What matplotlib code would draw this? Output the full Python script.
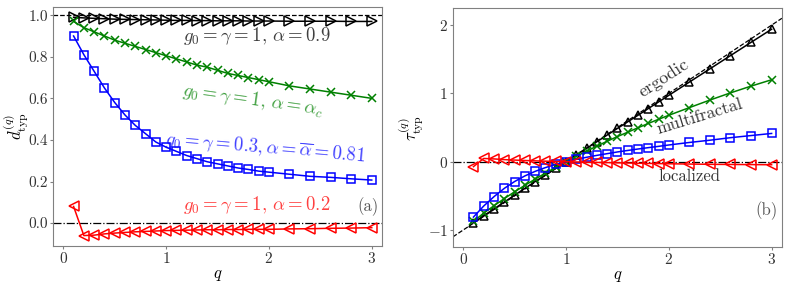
import numpy as np
import matplotlib
matplotlib.use('Agg')
import matplotlib.pyplot as plt

plt.rcParams['font.family'] = 'serif'
plt.rcParams['font.serif'] = ['cmr10']
plt.rcParams['mathtext.fontset'] = 'cm'
plt.rcParams['axes.formatter.use_mathtext'] = True
plt.rcParams['axes.unicode_minus'] = True

q = [0.1, 0.2, 0.3, 0.4, 0.5, 0.6, 0.7, 0.8, 0.9, 1.0, 1.1, 1.2, 1.3, 1.4, 1.5,
     1.6, 1.7, 1.8, 1.9, 2.0, 2.2, 2.4, 2.6, 2.8, 3.0]

# d_typ^(q)
d_black = [0.99, 0.987, 0.985, 0.983, 0.981, 0.98, 0.979, 0.978, 0.977, 0.976,
           0.975, 0.975, 0.974, 0.974, 0.973, 0.973, 0.973, 0.972, 0.972, 0.972,
           0.971, 0.971, 0.971, 0.97, 0.97]
d_green = [0.97, 0.94, 0.92, 0.90, 0.88, 0.865, 0.85, 0.835, 0.82, 0.805,
           0.79, 0.775, 0.76, 0.75, 0.735, 0.72, 0.71, 0.70, 0.69, 0.68,
           0.66, 0.645, 0.63, 0.615, 0.60]
d_blue = [0.90, 0.81, 0.73, 0.65, 0.58, 0.52, 0.47, 0.43, 0.39, 0.365,
          0.345, 0.325, 0.31, 0.295, 0.285, 0.275, 0.265, 0.258, 0.25, 0.245,
          0.235, 0.225, 0.22, 0.213, 0.207]
d_red = [0.08, -0.06, -0.058, -0.052, -0.048, -0.045, -0.042, -0.04, -0.038, -0.036,
         -0.035, -0.034, -0.033, -0.032, -0.032, -0.031, -0.031, -0.03, -0.03, -0.03,
         -0.028, -0.027, -0.025, -0.024, -0.022]

# tau_typ^(q)
t_black = [-0.89, -0.79, -0.69, -0.59, -0.49, -0.39, -0.29, -0.195, -0.098, 0.0,
           0.097, 0.195, 0.292, 0.39, 0.487, 0.584, 0.68, 0.778, 0.875, 0.972,
           1.166, 1.36, 1.554, 1.748, 1.94]
t_green = [-0.873, -0.752, -0.644, -0.54, -0.44, -0.346, -0.255, -0.167, -0.082, 0.0,
           0.079, 0.155, 0.228, 0.30, 0.368, 0.432, 0.497, 0.56, 0.621, 0.68,
           0.792, 0.903, 1.008, 1.107, 1.20]
t_blue = [-0.81, -0.648, -0.511, -0.39, -0.29, -0.208, -0.141, -0.086, -0.039, 0.0,
          0.035, 0.065, 0.093, 0.118, 0.143, 0.165, 0.186, 0.206, 0.225, 0.245,
          0.282, 0.315, 0.352, 0.383, 0.414]
t_red = [-0.072, 0.048, 0.041, 0.031, 0.024, 0.018, 0.013, 0.008, 0.004, 0.0,
         -0.004, -0.007, -0.01, -0.013, -0.016, -0.019, -0.022, -0.024, -0.027, -0.03,
         -0.034, -0.038, -0.04, -0.042, -0.044]

fig = plt.figure(figsize=(7.89, 2.87), dpi=100)
ax1 = fig.add_axes([0.0672, 0.143, 0.417, 0.833])
ax2 = fig.add_axes([0.574, 0.139, 0.417, 0.833])

frame = '#808080'
for ax in (ax1, ax2):
    for s in ax.spines.values():
        s.set_color(frame)
    ax.tick_params(colors=frame, labelcolor='#333333', labelsize=11,
                   length=2, pad=1.5)
    ax.set_xlim(-0.1, 3.1)
    ax.set_xticks([0, 1, 2, 3])
    ax.set_xlabel('$q$', fontsize=12, labelpad=1)

# panel (a)
ax1.axhline(1.0, color='k', ls='--', lw=0.9)
ax1.axhline(0.0, color='k', ls='-.', lw=0.9)
kw = dict(lw=1.1, mfc='none', mew=1.1)
ax1.plot(q, d_black, color='k', marker='>', ms=6.5, **kw)
ax1.plot(q, d_green, color='g', marker='x', ms=6, **kw)
ax1.plot(q, d_blue, color='b', marker='s', ms=6, **kw)
ax1.plot(q, d_red, color='r', marker='<', ms=6.5, **kw)
ax1.set_ylim(-0.11, 1.04)
ax1.set_yticks([0.0, 0.2, 0.4, 0.6, 0.8, 1.0])
ax1.set_yticklabels(['0.0', '0.2', '0.4', '0.6', '0.8', '1.0'])
ax1.set_ylabel(r'$d_{\rm typ}^{(q)}$', fontsize=12)
ax1.yaxis.set_label_coords(-0.07, 0.5)

ax1.text(1.88, 0.90, r'$g_0=\gamma=1,\,\alpha=0.9$', color='k', alpha=0.75,
         fontsize=13.5, ha='center', va='center')
ax1.text(1.84, 0.593, r'$g_0=\gamma=1,\,\alpha=\alpha_c$', color='g', alpha=0.75,
         fontsize=13.5, ha='center', va='center', rotation=-8)
ax1.text(1.96, 0.36, r'$g_0=\gamma=0.3,\alpha=\overline{\alpha}=0.81$', color='b',
         alpha=0.75, fontsize=13.5, ha='center', va='center', rotation=-5)
ax1.text(1.88, 0.085, r'$g_0=\gamma=1,\,\alpha=0.2$', color='r', alpha=0.75,
         fontsize=13.5, ha='center', va='center')
ax1.text(2.96, 0.08, '(a)', color='#555555', fontsize=12, ha='center', va='center')

# panel (b)
xl = np.array([-0.1, 3.1])
ax2.plot(xl, xl - 1, color='k', ls='--', lw=0.9)
ax2.axhline(0.0, color='k', ls='-.', lw=0.9)
ax2.plot(q, t_black, color='k', marker='^', ms=6, **kw)
ax2.plot(q, t_green, color='g', marker='x', ms=6, **kw)
ax2.plot(q, t_blue, color='b', marker='s', ms=6, **kw)
ax2.plot(q, t_red, color='r', marker='<', ms=6.5, **kw)
ax2.set_ylim(-1.25, 2.25)
ax2.set_yticks([-1, 0, 1, 2])
ax2.set_ylabel(r'$\tau_{\rm typ}^{(q)}$', fontsize=12)
ax2.yaxis.set_label_coords(-0.085, 0.5)

ax2.text(1.95, 1.22, 'ergodic', color='#333333', fontsize=13,
         ha='center', va='center', rotation=33)
ax2.text(2.3, 0.66, 'multifractal', color='#333333', fontsize=12.5,
         ha='center', va='center', rotation=17)
ax2.text(2.2, -0.22, 'localized', color='#333333', fontsize=12,
         ha='center', va='center')
ax2.text(2.95, -0.71, '(b)', color='#555555', fontsize=12, ha='center', va='center')

fig.savefig('out.png', dpi=100)
